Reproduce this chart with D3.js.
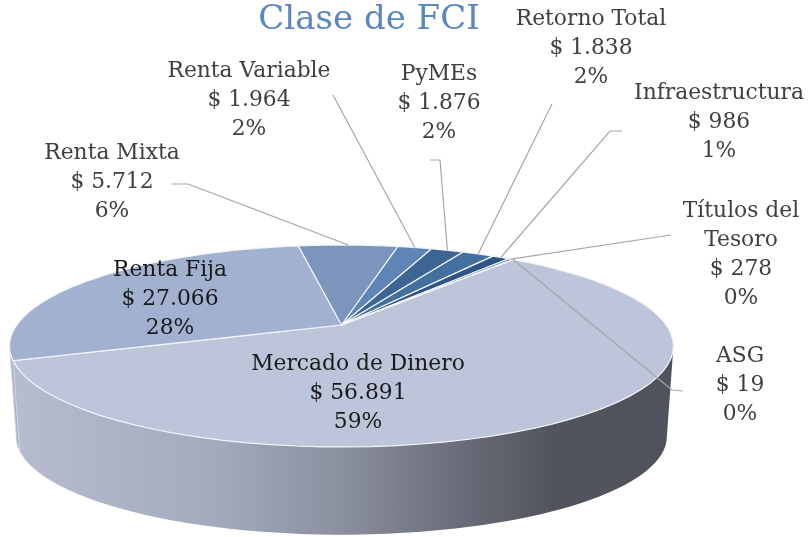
<!DOCTYPE html>
<html><head><meta charset="utf-8">
<script src="https://cdn.jsdelivr.net/npm/d3@7/dist/d3.min.js"></script>
<style>html,body{margin:0;padding:0;background:#fff}svg{display:block;filter:blur(0.35px)}</style></head>
<body><svg id="c" width="809" height="537"></svg>
<script>
const categories = ["Mercado de Dinero","Renta Fija","Renta Mixta","Renta Variable","PyMEs","Retorno Total","Infraestructura","Títulos del Tesoro","ASG"];
const amounts = [56891,27066,5712,1964,1876,1838,986,278,19];
const amountLabels = ["$ 56.891","$ 27.066","$ 5.712","$ 1.964","$ 1.876","$ 1.838","$ 986","$ 278","$ 19"];
const percentLabels = ["59%","28%","6%","2%","2%","2%","1%","0%","0%"];
const colors = ["#bcc5d9","#a1b1cf","#7b95bd","#5f84b6","#3d6593","#44709f","#2e5586","#6f8db8","#a1b1cf"];
const nameLines = [["Mercado de Dinero"],["Renta Fija"],["Renta Mixta"],["Renta Variable"],["PyMEs"],["Retorno Total"],["Infraestructura"],["Títulos del","Tesoro"],["ASG"]];
const labelX = [358,170,112,249,439,591,719,741,740];
const labelY = [370,276,159,77,80,25,99,217,362];
const leaderEnd = [null,null,[[188,184],[172,184]],[[333,95]],[[440,160],[430,160]],[[552,104]],[[610,131],[622,131]],[[671,235]],[[672,390],[683,391]]];

const svg = d3.select("#c");
const font = "'DejaVu Serif',serif";
const rad = Math.PI/180;
const pie = d3.pie().sort(null).startAngle(38*rad).endAngle(398*rad);
const arcs = pie(amounts);

// perspective projection of the pie's circle
const cx=341.5, cy=325, A=324.7, B=96.6, K=0.208, DEPTH=88, SHRINK=0.98;
const project=(t,r=1,base=true)=>{
  const u=r*Math.sin(t), v=-r*Math.cos(t), w=1-K*v;
  const x=A*u/w, y=B*v/w;
  return base?[cx+x,cy+y]:[cx+x*SHRINK,cy+DEPTH+(y+21)*0.97-21+4];
};
const angles=(a,b)=>d3.range(0,61).map(i=>a+(b-a)*i/60);
const line=d3.line();
// the wall is only visible between the two silhouette angles of the projected circle
const silA=Math.acos(-K), silB=2*Math.PI-silA;

const defs=svg.append("defs");
const xs=d3.scaleLinear().domain([0,1]).range([10,674]);
const grad=defs.append("linearGradient").attr("id","wall").attr("gradientUnits","userSpaceOnUse")
  .attr("x1",xs(0)).attr("x2",xs(1)).attr("y1",0).attr("y2",0);
[[0,"#b7bccf"],[.3,"#a5abbe"],[.5,"#8b909f"],[.65,"#6e727e"],[.82,"#50545e"],[1,"#4f535c"]]
  .forEach(([o,c])=>grad.append("stop").attr("offset",o).attr("stop-color",c));

// walls
const visible=arcs.filter(d=>d.startAngle<silB && d.endAngle>silA);
svg.append("g").selectAll("path").data(visible).join("path")
  .attr("d",d=>{
    const ts=angles(Math.max(d.startAngle,silA),Math.min(d.endAngle,silB));
    return line([...ts.map(t=>project(t)),...ts.slice().reverse().map(t=>project(t,1,false))])+"Z";
  })
  .attr("fill",d=>d.index===0?"url(#wall)":"#aab1c6")
  .attr("stroke",d=>d.index===0?"none":"#d5d9e4").attr("stroke-width",.8);

// top face
svg.append("g").selectAll("path").data(arcs).join("path")
  .attr("d",d=>{
    const ts=angles(d.startAngle,d.endAngle);
    return line([[cx,cy],...ts.map(t=>project(t))])+"Z";
  })
  .attr("fill",(d,i)=>colors[i]).attr("stroke","#f2f4f8").attr("stroke-width",1.2).attr("stroke-linejoin","round");

// leader lines
svg.append("g").selectAll("path").data(arcs.filter((d,i)=>leaderEnd[i])).join("path")
  .attr("d",d=>line([project((d.startAngle+d.endAngle)/2),...leaderEnd[d.index]]))
  .attr("fill","none").attr("stroke","#a6a6a6").attr("stroke-width",1.2);

// labels
const lab=svg.append("g").attr("font-family",font).attr("font-size",21.8).attr("text-anchor","middle");
categories.forEach((c,i)=>{
  const lines=[...nameLines[i],amountLabels[i],percentLabels[i]];
  const t=lab.append("text").attr("fill",i<2?"#1a1a1a":"#404040");
  lines.forEach((s,j)=>t.append("tspan").attr("x",labelX[i]).attr("y",labelY[i]+j*29).text(s));
});
svg.append("text").attr("x",369).attr("y",29).attr("text-anchor","middle").attr("font-family",font)
  .attr("font-size",34).attr("fill","#5b87c0").text("Clase de FCI");
</script></body></html>
